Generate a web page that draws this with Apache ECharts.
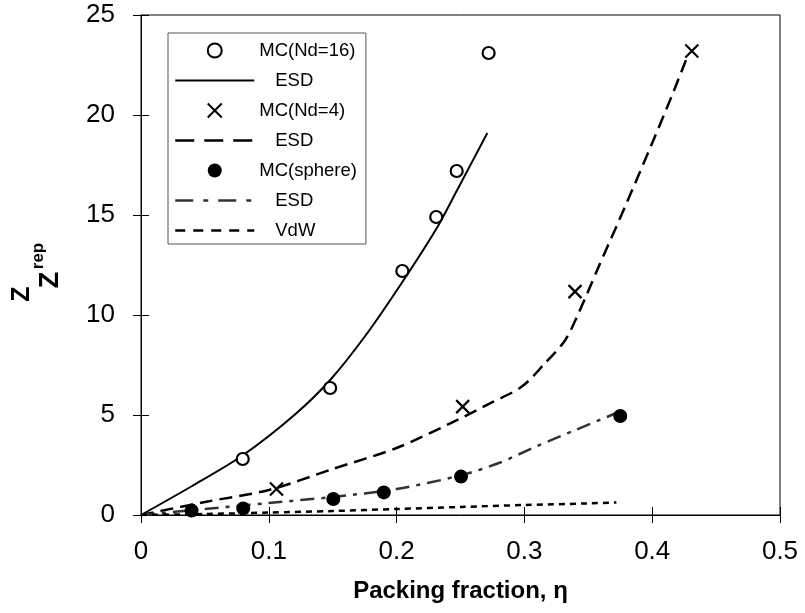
<!DOCTYPE html>
<html>
<head>
<meta charset="utf-8">
<script src="https://cdn.jsdelivr.net/npm/echarts@6/dist/echarts.min.js"></script>
<style>
  html, body { margin: 0; padding: 0; background: #fff; }
  #chart { width: 805px; height: 613px; }
</style>
</head>
<body>
<div id="chart"></div>
<script>
// MC(Nd=16) points and its ESD curve
const mc16Eta = [0.0796, 0.148, 0.2045, 0.231, 0.247, 0.272];
const mc16Z = [2.8, 6.35, 12.2, 14.9, 17.2, 23.1];
const esd16Eta = [0, 0.04, 0.08, 0.12, 0.148, 0.176, 0.204, 0.231, 0.247, 0.271];
const esd16Z = [0, 1.45, 3.0, 5.0, 6.75, 9.0, 11.6, 14.3, 16.2, 19.1];

// MC(Nd=4) points and its ESD curve
const mc4Eta = [0.106, 0.2517, 0.3396, 0.431];
const mc4Z = [1.3, 5.42, 11.17, 23.2];
const esd4Eta = [0, 0.05, 0.1, 0.15, 0.2, 0.242, 0.273, 0.298, 0.316, 0.332, 0.3435, 0.357, 0.38, 0.40, 0.415, 0.428];
const esd4Z = [0, 0.65, 1.25, 2.3, 3.35, 4.58, 5.58, 6.42, 7.58, 8.75, 10.25, 12.25, 15.6, 18.6, 20.9, 23.0];

// MC(sphere) points and its ESD curve
const sphEta = [0.0396, 0.080, 0.1505, 0.190, 0.2504, 0.375];
const sphZ = [0.22, 0.33, 0.8, 1.13, 1.92, 4.95];
const esdSphEta = [0, 0.05, 0.1, 0.15, 0.2, 0.25, 0.28, 0.31, 0.34, 0.372];
const esdSphZ = [0, 0.3, 0.6, 0.9, 1.3, 1.98, 2.6, 3.45, 4.25, 5.1];

// Van der Waals
const vdwEta = [0, 0.05, 0.1, 0.15, 0.2, 0.25, 0.3, 0.35, 0.372];
const vdwZ = [0, 0.05, 0.12, 0.2, 0.3, 0.4, 0.5, 0.58, 0.63];

const legendText = {
  'MC(Nd=16)': 'MC(Nd=16)', 'ESD16': '{p|ESD}', 'MC(Nd=4)': 'MC(Nd=4)',
  'ESD4': '{p|ESD}', 'MC(sphere)': 'MC(sphere)', 'ESDsph': '{p|ESD}', 'VdW': '{p|VdW}'
};

const FONT = 'Liberation Sans, Arial, sans-serif';
const pairs = (xs, ys) => xs.map((x, i) => [x, ys[i]]);
const noDot = { color: 'rgba(0,0,0,0)', borderWidth: 0 };

const chart = echarts.init(document.getElementById('chart'));
chart.setOption({
  animation: false,
  backgroundColor: '#fff',
  textStyle: { fontFamily: FONT },
  grid: {
    left: 141, right: 25, top: 15, bottom: 98,
    show: true, borderColor: '#000', borderWidth: 1
  },
  legend: {
    orient: 'vertical',
    left: 168, top: 33,
    padding: [8, 9, 4, 6],
    itemWidth: 79, itemHeight: 14, itemGap: 11,
    backgroundColor: '#fff',
    borderColor: '#555', borderWidth: 1, borderRadius: 0,
    textStyle: {
      fontSize: 18.5, color: '#000', fontFamily: FONT,
      rich: { p: { fontSize: 18.5, color: '#000', fontFamily: FONT, padding: [0, 0, 0, 16] } }
    },
    formatter: name => legendText[name],
    data: [
      { name: 'MC(Nd=16)' },
      { name: 'ESD16', itemStyle: noDot, lineStyle: { type: 'solid', width: 2 } },
      { name: 'MC(Nd=4)' },
      { name: 'ESD4', itemStyle: noDot, lineStyle: { type: [19, 10], width: 2.5 } },
      { name: 'MC(sphere)' },
      { name: 'ESDsph', itemStyle: noDot, lineStyle: { type: [18, 10, 5, 10], width: 2.5 } },
      { name: 'VdW', itemStyle: noDot, lineStyle: { type: [10, 8], width: 2.5 } }
    ]
  },
  graphic: [
    { type: 'text', x: 22, y: 294, rotation: Math.PI / 2,
      style: { text: 'Z', font: 'bold 25px ' + FONT, fill: '#000', textAlign: 'center', textVerticalAlign: 'middle' } },
    { type: 'text', x: 51, y: 280, rotation: Math.PI / 2,
      style: { text: 'Z', font: 'bold 27px ' + FONT, fill: '#000', textAlign: 'center', textVerticalAlign: 'middle' } },
    { type: 'text', x: 38, y: 256, rotation: Math.PI / 2,
      style: { text: 'rep', font: 'bold 17px ' + FONT, fill: '#000', textAlign: 'center', textVerticalAlign: 'middle' } }
  ],
  xAxis: [
    {
      type: 'value', min: 0, max: 0.5, interval: 0.1,
      axisLine: { lineStyle: { color: '#000', width: 1 } },
      axisTick: { length: 8, lineStyle: { color: '#000' } },
      axisLabel: { fontSize: 26, color: '#000', margin: 24, fontFamily: FONT },
      splitLine: { show: false },
      name: 'Packing fraction, η', nameLocation: 'middle', nameGap: 64,
      nameTextStyle: { fontSize: 24, fontWeight: 'bold', color: '#000', fontFamily: FONT }
    },
    {
      type: 'value', min: 0, max: 0.5, interval: 0.1, position: 'bottom',
      axisLine: { show: false },
      axisTick: { inside: true, length: 8, lineStyle: { color: '#000' } },
      axisLabel: { show: false }, splitLine: { show: false }
    }
  ],
  yAxis: [
    {
      type: 'value', min: 0, max: 25, interval: 5,
      axisLine: { show: true, lineStyle: { color: '#000', width: 1 } },
      axisTick: { show: true, length: 8, lineStyle: { color: '#000' } },
      axisLabel: { fontSize: 26, color: '#000', margin: 26, fontFamily: FONT },
      splitLine: { show: false }
    },
    {
      type: 'value', min: 0, max: 25, interval: 5, position: 'left',
      axisLine: { show: false },
      axisTick: { show: true, inside: true, length: 8, lineStyle: { color: '#000' } },
      axisLabel: { show: false }, splitLine: { show: false }
    }
  ],
  series: [
    {
      name: 'ESD16', type: 'line', data: pairs(esd16Eta, esd16Z), smooth: 0.3,
      symbol: 'none', lineStyle: { color: '#000', width: 2, type: 'solid' }, itemStyle: { color: '#000' }
    },
    {
      name: 'ESD4', type: 'line', data: pairs(esd4Eta, esd4Z), smooth: 0.3,
      symbol: 'none', lineStyle: { color: '#000', width: 2.5, type: [13, 7] }, itemStyle: { color: '#000' }
    },
    {
      name: 'ESDsph', type: 'line', data: pairs(esdSphEta, esdSphZ), smooth: 0.3,
      symbol: 'none', lineStyle: { color: '#333', width: 2.5, type: [14, 7, 4, 7] }, itemStyle: { color: '#333' }
    },
    {
      name: 'VdW', type: 'line', data: pairs(vdwEta, vdwZ), smooth: 0.3,
      symbol: 'none', lineStyle: { color: '#000', width: 2.5, type: [6, 5] }, itemStyle: { color: '#000' }
    },
    {
      name: 'MC(Nd=16)', type: 'scatter', data: pairs(mc16Eta, mc16Z), z: 5,
      symbol: 'circle', symbolSize: 12,
      itemStyle: { color: '#fff', borderColor: '#000', borderWidth: 2.2, opacity: 1 }
    },
    {
      name: 'MC(Nd=4)', type: 'scatter', data: pairs(mc4Eta, mc4Z), z: 5,
      symbol: 'path://M0,0L10,10M10,0L0,10', symbolSize: 13,
      itemStyle: { color: 'rgba(0,0,0,0)', borderColor: '#000', borderWidth: 2.2, opacity: 1 }
    },
    {
      name: 'MC(sphere)', type: 'scatter', data: pairs(sphEta, sphZ), z: 5,
      symbol: 'circle', symbolSize: 14,
      itemStyle: { color: '#000', opacity: 1 }
    }
  ]
});
</script>
</body>
</html>
